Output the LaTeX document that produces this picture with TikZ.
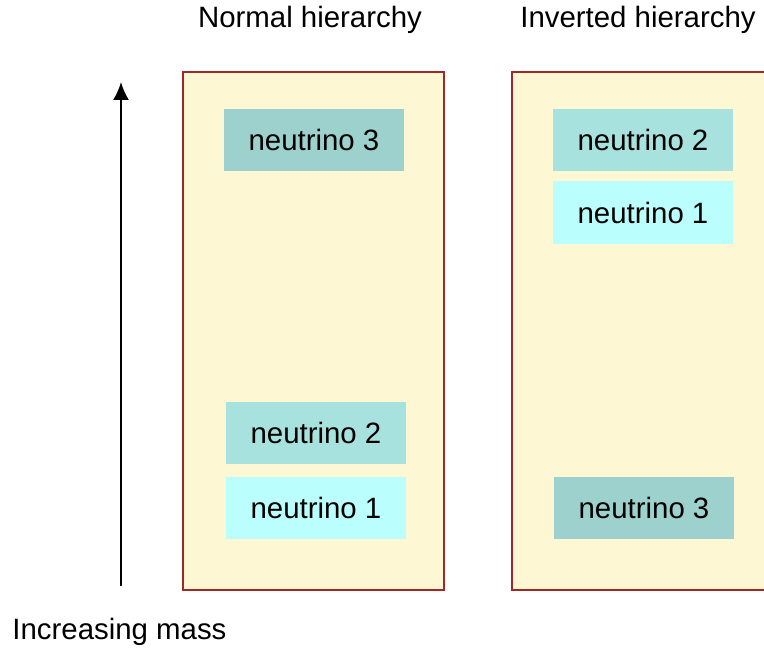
\documentclass[tikz,border=0pt]{standalone}
\usepackage{fontspec}
\setmainfont{Liberation Sans}
\usepackage{tikz}
\usetikzlibrary{arrows.meta,positioning}
\definecolor{panelfill}{RGB}{253,247,211}
\definecolor{panelline}{RGB}{160,40,40}
\definecolor{nuthree}{RGB}{156,209,206}
\definecolor{nutwo}{RGB}{168,226,222}
\definecolor{nuone}{RGB}{186,255,253}
\tikzset{
  panel/.style={draw=panelline, fill=panelfill, line width=1pt},
  level/.style={minimum width=90pt, minimum height=31pt, inner sep=0pt},
  title/.style={font=\fontsize{14.7}{17}\selectfont}
}

\begin{document}
\begin{tikzpicture}[x=0.5pt, y=-0.5pt, font=\fontsize{14.7}{17}\selectfont]
                    \useasboundingbox (0,0) rectangle (764,652);
                    \draw[panel] (183,72) rectangle (444,590);
                    \draw[panel] (512,72) rectangle (790,590);
                    % normal hierarchy
                    \node [level, fill=nuthree] (n3) at (314,140) {neutrino 3};
                    \node [level, fill=nutwo] (n2) at (316,433) {neutrino 2};
                    \node [level, fill=nuone] (n1) at (316,507.5) {neutrino 1};
                    % inverted hierarchy
                    \node [level, fill=nutwo] (i2) at (643,140) {neutrino 2};
                    \node [level, fill=nuone] (i1) at (643,212.5) {neutrino 1};
                    \node [level, fill=nuthree] (i3) at (644,507.5) {neutrino 3};
                    \node [title] (normal) at (310,20) {Normal hierarchy};
                    \node [title] (inverted) at (638,20) {Inverted hierarchy};
                    \node [title, right, inner sep=0pt] (mass) at (12,632) {Increasing mass};
                    \coordinate (low) at (121,586);
                    \coordinate (high) at (121,82);
                    \draw [line width=1pt, -{Latex[length=9pt,width=8pt]}] (low) -- (high);
                \end{tikzpicture}
\end{document}
